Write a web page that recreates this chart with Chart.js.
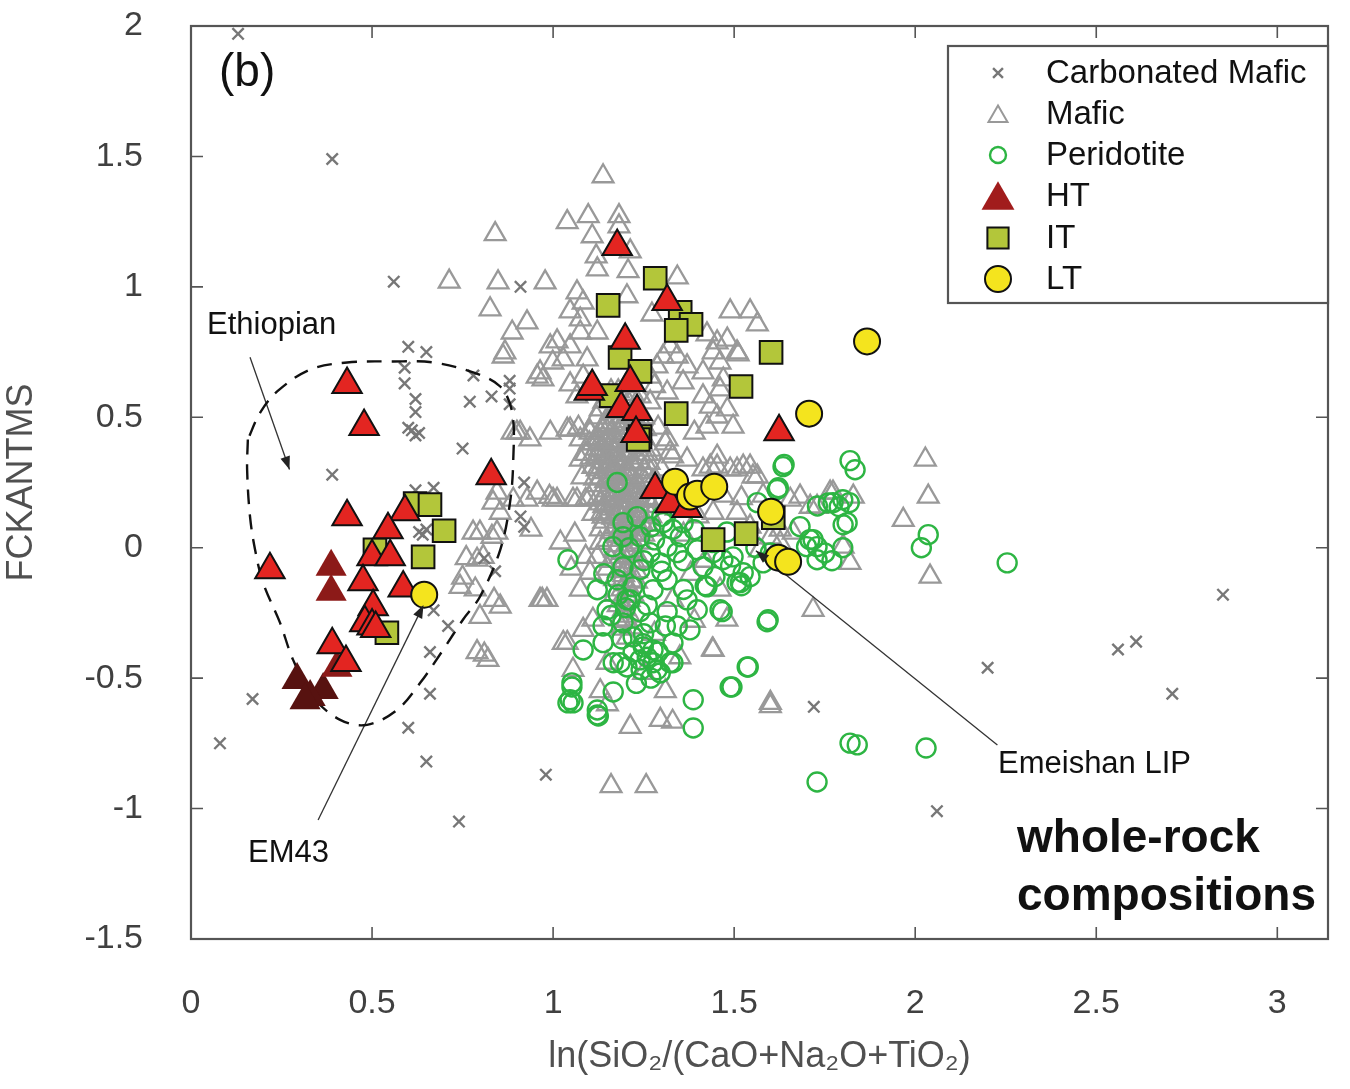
<!DOCTYPE html>
<html><head><meta charset="utf-8">
<script src="https://cdn.jsdelivr.net/npm/chart.js@4.4.1/dist/chart.umd.min.js"></script>
<style>html,body{margin:0;padding:0;background:#fff}canvas{display:block}</style>
</head><body>
<canvas id="c" width="1350" height="1089"></canvas>
<script>
// ---------- DATA ----------
const xTickValues = [0, 0.5, 1, 1.5, 2, 2.5, 3];
const yTickValues = [-1.5, -1, -0.5, 0, 0.5, 1, 1.5, 2];
const legendLabels = ['Carbonated Mafic', 'Mafic', 'Peridotite', 'HT', 'IT', 'LT'];
const xTitle = 'ln(SiO\u2082/(CaO+Na\u2082O+TiO\u2082)';
const yTitle = 'FCKANTMS';

const carbonatedMafic = [[0.13,1.97],[0.39,1.49],[0.56,1.02],[0.91,1.00],[0.60,0.77],[0.65,0.75],[0.59,0.69],[0.59,0.63],[0.62,0.57],[0.62,0.52],[0.61,0.45],[0.62,0.43],[0.60,0.46],[0.63,0.44],[0.77,0.56],[0.78,0.66],[0.83,0.58],[0.88,0.61],[0.88,0.55],[0.88,0.64],[0.75,0.38],[0.39,0.28],[0.62,0.22],[0.67,0.23],[0.63,0.06],[0.64,0.05],[0.65,0.07],[0.92,0.25],[0.91,0.12],[0.92,0.08],[0.67,-0.24],[0.71,-0.30],[0.66,-0.40],[0.66,-0.56],[0.17,-0.58],[0.60,-0.69],[0.08,-0.75],[0.65,-0.82],[0.74,-1.05],[0.98,-0.87],[2.06,-1.01],[1.72,-0.61],[2.20,-0.46],[2.56,-0.39],[2.61,-0.36],[2.71,-0.56],[2.85,-0.18],[0.84,-0.09],[0.81,-0.04]];

const mafic = [[1.138,1.424],[0.840,1.202],[1.039,1.248],[1.097,1.271],[1.182,1.271],[1.182,1.232],[1.108,1.194],[1.119,1.117],[1.213,1.136],[1.122,1.067],[1.207,1.060],[1.343,1.036],[0.848,1.017],[0.978,1.017],[0.713,1.020],[0.826,0.914],[1.066,0.979],[1.083,0.940],[1.047,0.906],[1.204,0.964],[1.273,0.894],[0.928,0.864],[0.887,0.825],[1.075,0.875],[1.122,0.825],[1.075,0.825],[1.011,0.791],[0.992,0.772],[1.047,0.772],[1.028,0.722],[0.964,0.672],[0.999,0.710],[1.094,0.722],[1.489,0.906],[1.544,0.906],[1.564,0.856],[1.425,0.818],[1.453,0.787],[1.508,0.749],[1.442,0.749],[1.323,0.772],[1.304,0.733],[1.343,0.733],[1.370,0.695],[1.287,0.695],[1.414,0.672],[0.862,0.733],[1.268,0.656],[1.470,0.645],[1.083,0.656],[0.972,0.645],[0.956,0.656],[1.047,0.626],[1.066,0.580],[0.992,0.441],[0.936,0.415],[0.900,0.441],[1.102,0.441],[1.130,0.376],[1.268,0.557],[1.315,0.595],[1.359,0.634],[1.414,0.580],[1.453,0.503],[1.497,0.464],[1.390,0.441],[1.315,0.415],[1.268,0.376],[1.508,0.300],[1.544,0.311],[1.453,0.311],[1.481,0.798],
[0.909,0.441],[1.047,0.453],[1.075,0.415],[0.834,0.173],[0.854,0.134],[0.845,0.058],[0.798,0.058],[0.807,-0.035],[0.956,0.211],[1.011,0.184],[1.066,0.184],[0.928,0.184],[1.075,0.338],[1.122,0.300],[1.323,0.365],[1.370,0.338],[1.414,0.300],[1.453,0.349],[1.489,0.300],[1.525,0.311],[1.552,0.273],[1.655,0.184],[1.138,0.119],[1.130,0.019],[1.122,-0.035],[1.442,0.134],[1.508,0.134],[1.544,0.081],
[1.000,0.184],[1.055,0.184],[0.983,-0.200],[1.102,-0.096],[1.075,-0.161],[1.110,-0.276],[1.039,-0.365],[1.083,-0.315],[1.055,-0.468],[1.149,-0.441],[1.442,-0.392],[1.461,-0.161],[1.480,-0.276],[1.718,-0.238],[1.682,0.196],[1.729,0.157],[1.765,0.211],[1.627,0.069],[1.600,-0.595],
[1.511,0.741],[1.461,0.710],[1.461,0.607],[1.434,0.541],[1.481,0.530],[1.425,0.464],[1.434,0.311],[1.564,0.273],[1.710,0.157],[1.773,0.211],[1.829,0.196],[1.967,0.107],[2.028,0.338],[2.036,0.196],[2.041,-0.111],[1.801,0.004],[1.820,-0.058],[1.663,0.058],[1.627,0.019],
[0.970,-0.200],[1.213,-0.687],[1.296,-0.660],[1.330,-0.667],[1.160,-0.914],[1.257,-0.914],[1.600,-0.607],[1.440,-0.390],[0.810,-0.410],[0.820,-0.430],[0.790,-0.400],[0.785,-0.160],[0.760,-0.040],[0.790,-0.046],[0.837,-0.200],[0.750,-0.115],[0.743,-0.150],[0.854,-0.226],[0.798,-0.265],[0.964,-0.200],[1.028,-0.365],[0.779,0.058],[0.831,0.042],[0.990,0.195],[1.090,0.184],[0.939,0.069],[1.090,-0.035],[0.887,0.441],[1.039,0.453],[0.845,0.211],[0.890,0.184],[0.867,0.749],
[1.130,-0.550],[1.250,-0.480],[1.310,-0.550],[1.350,-0.420],[1.390,-0.280],[1.330,-0.200],[1.280,-0.330],[1.150,-0.600],[1.380,-0.100],[1.420,-0.050],[1.360,0.050],[1.400,0.120],[1.340,0.150],[1.050,-0.080],[1.060,0.050],[1.020,0.020],[1.570,-0.010],[1.600,0.040],[1.520,0.190],[1.580,0.200],[1.470,0.200],
[1.10,0.45],[1.12,0.42],[1.14,0.47],[1.16,0.44],[1.18,0.40],[1.20,0.43],[1.22,0.46],[1.13,0.38],[1.15,0.35],[1.17,0.37],[1.19,0.33],[1.21,0.36],[1.23,0.39],[1.25,0.42],[1.11,0.31],[1.14,0.29],[1.16,0.32],[1.18,0.28],[1.20,0.30],[1.22,0.27],[1.24,0.33],[1.26,0.36],[1.12,0.24],[1.15,0.22],[1.17,0.25],[1.19,0.21],[1.21,0.23],[1.23,0.20],[1.25,0.26],[1.27,0.29],[1.13,0.17],[1.16,0.15],[1.18,0.18],[1.20,0.14],[1.22,0.16],[1.24,0.13],[1.26,0.19],[1.28,0.22],[1.14,0.10],[1.17,0.08],[1.19,0.11],[1.21,0.07],[1.23,0.09],[1.25,0.05],[1.27,0.12],[1.15,0.03],[1.18,0.01],[1.20,0.04],[1.22,-0.01],[1.24,0.02],[1.16,-0.05],[1.19,-0.07],[1.21,-0.03],[1.23,-0.09],[1.17,-0.12],[1.20,-0.14],[1.22,-0.18],[1.18,-0.22],[1.21,-0.26],[1.19,-0.31],[1.12,0.50],[1.17,0.52],[1.21,0.55],[1.25,0.50],[1.29,0.46],[1.31,0.40],[1.09,0.36],[1.08,0.27],[1.10,0.19],[1.30,0.30],[1.32,0.25],[1.14,0.56],[1.18,0.60],[1.24,0.58],[1.28,0.62],[1.07,0.46],[1.33,0.35],[1.30,0.18],[1.11,0.13],[1.28,0.07],
[1.11,0.40],[1.13,0.44],[1.15,0.41],[1.17,0.43],[1.19,0.46],[1.21,0.41],[1.23,0.44],[1.12,0.35],[1.14,0.33],[1.16,0.36],[1.18,0.34],[1.20,0.37],[1.22,0.32],[1.24,0.36],[1.13,0.27],[1.15,0.26],[1.17,0.29],[1.19,0.27],[1.21,0.29],[1.23,0.25],[1.14,0.20],[1.16,0.19],[1.18,0.22],[1.20,0.20],[1.22,0.21],[1.24,0.18],[1.15,0.13],[1.17,0.12],[1.19,0.15],[1.21,0.12],[1.23,0.14],[1.16,0.06],[1.18,0.05],[1.20,0.08],[1.22,0.05],[1.17,-0.01],[1.19,-0.02],[1.21,0.01],[1.18,-0.09],[1.20,-0.08],[1.19,-0.16],[1.21,-0.20],[1.20,-0.28],[1.12,0.38],[1.15,0.48],[1.19,0.50],[1.16,0.52],[1.13,0.53],[1.10,0.40],[1.26,0.24],[1.27,0.16],[1.26,0.09],[1.25,0.30],[1.14,0.16],[1.13,0.07],[1.15,-0.08],[1.24,-0.05],[1.23,-0.13],[1.17,-0.18],[1.16,0.60],[1.20,0.62],[1.22,0.59],
[1.125,0.415],[1.145,0.395],[1.165,0.405],[1.185,0.425],[1.205,0.395],[1.225,0.415],[1.135,0.345],[1.155,0.315],[1.175,0.335],[1.195,0.355],[1.215,0.325],[1.235,0.345],[1.145,0.255],[1.165,0.275],[1.185,0.245],[1.205,0.265],[1.225,0.235],[1.245,0.275],[1.155,0.185],[1.175,0.205],[1.195,0.175],[1.215,0.195],[1.235,0.165],[1.165,0.115],[1.185,0.135],[1.205,0.105],[1.225,0.125],[1.245,0.095],[1.175,0.045],[1.195,0.065],[1.215,0.035],[1.235,0.055],[1.185,-0.035],[1.205,-0.015],[1.225,-0.055],[1.195,-0.105],[1.215,-0.125],[1.205,-0.185],[1.195,-0.235],[1.215,-0.305],[1.205,-0.345],[1.185,-0.275],[1.135,0.455],[1.155,0.465],[1.175,0.475],[1.195,0.485],[1.215,0.505],[1.235,0.475],[1.255,0.455],[1.265,0.325],[1.275,0.255],[1.285,0.185],[1.105,0.345],[1.115,0.265],[1.125,0.195],[1.135,0.135]];

const peridotite = [[1.177,0.250],[1.041,-0.046],[1.619,0.223],[1.564,0.173],[1.682,0.081],[1.718,0.031],[1.729,-0.046],[1.700,0.004],[1.773,0.173],[1.517,-0.134],[1.525,-0.096],[1.461,-0.238],[1.591,-0.284],[1.536,-0.457],[1.489,-0.534],[1.387,-0.583],[1.166,-0.553],[1.052,-0.518],[1.047,-0.583],[1.122,-0.622],[1.083,-0.392],[1.185,-0.441],[1.240,-0.430],[1.287,-0.468],[1.323,-0.441],[1.331,-0.365],[1.268,-0.288],[1.221,-0.342],[1.249,-0.380],[1.378,-0.315],[1.398,-0.238],[1.370,-0.200],[1.425,-0.150],[1.414,-0.073],[1.469,-0.046],[1.122,-0.161],[1.149,-0.238],[1.193,-0.288],[1.138,-0.300],[1.204,-0.200],[1.177,-0.123],[1.193,-0.073],[1.240,-0.084],[1.276,-0.161],[1.315,-0.123],[1.296,-0.058],[1.343,-0.019],[1.351,0.042],[1.315,0.004],[1.268,-0.019],[1.240,0.042],[1.193,0.042],[1.193,0.096],[1.232,0.119],[1.390,0.069],[1.398,-0.008],[1.442,-0.019],[1.497,-0.035],[1.359,0.096],[1.304,0.096],[1.165,0.004],[1.213,-0.200],[1.260,-0.220],[1.240,-0.245],[1.200,-0.230],[1.138,-0.364],[1.249,-0.368],[1.276,-0.392],[1.221,-0.400],[1.276,-0.441],[1.243,-0.468],[1.343,-0.300],[1.315,-0.245],
[1.635,0.311],[1.622,0.230],[1.800,0.184],[1.790,0.157],[1.812,0.096],[1.709,0.031],[1.729,0.004],[1.580,-0.058],[1.544,-0.111],[1.508,-0.134],[1.520,-0.146],[1.447,-0.111],[1.420,-0.146],[1.467,-0.245],[1.594,-0.276],[1.539,-0.457],[1.494,-0.534],[1.387,-0.691],[1.122,-0.641],[1.125,-0.645],[1.052,-0.534],[1.055,-0.595],[1.041,-0.595],[1.296,-0.480],[1.331,-0.441],[1.729,-0.898],[1.820,-0.749],[1.840,-0.756],[2.030,-0.768],[2.254,-0.058],[2.036,0.050],[2.017,0.000],[1.820,0.334],[1.834,0.299],[1.818,0.173],[1.801,0.088],[1.638,0.319],[1.730,0.160],[1.760,0.172],[1.800,0.000],[1.770,-0.050],[1.750,-0.020],
[1.18,-0.18],[1.16,-0.26],[1.22,-0.15],[1.25,-0.05],[1.28,0.03],[1.30,-0.09],[1.33,0.07],[1.36,-0.05],[1.30,0.12],[1.27,0.08],[1.21,0.00],[1.14,-0.10],[1.26,-0.42],[1.29,-0.40],[1.25,-0.33],[1.19,-0.35],[1.31,-0.30],[1.23,-0.52],[1.27,-0.50],[1.36,-0.16],[1.44,0.02],[1.48,0.06],[1.56,0.00],[1.60,-0.02],[1.49,-0.07],[1.166,-0.441],[1.204,-0.457]];

const ht = [[0.431,0.626],[0.478,0.465],[0.829,0.276],[0.431,0.119],[0.218,-0.084],[0.591,0.138],[0.544,0.069],[0.500,-0.035],[0.550,-0.035],[0.475,-0.130],[0.586,-0.154],[0.503,-0.226],[0.480,-0.288],[0.500,-0.300],[0.510,-0.310],[0.390,-0.372],[0.428,-0.440],
[1.177,1.155],[1.315,0.944],[1.199,0.795],[1.100,0.600],[1.108,0.618],[1.213,0.633],[1.188,0.534],[1.232,0.522],[1.229,0.438],[1.624,0.445],[1.282,0.223],[1.323,0.169],[1.370,0.150]];
const htDark = [[0.387,-0.073],[0.387,-0.169],[0.403,-0.460]];
const htDarkest = [[0.293,-0.507],[0.365,-0.545],[0.329,-0.572],[0.315,-0.585]];
const it = [[1.152,0.929],[1.282,1.033],[1.351,0.902],[1.381,0.856],[1.340,0.833],[1.185,0.729],[1.240,0.676],[1.160,0.583],[1.240,0.426],[1.235,0.415],[1.340,0.514],[1.519,0.618],[1.602,0.749],[1.608,0.115],[1.533,0.054],[1.442,0.031],[0.619,0.169],[0.660,0.165],[0.699,0.065],[0.508,-0.008],[0.641,-0.035],[0.541,-0.326]];
const lt = [[1.867,0.791],[1.707,0.514],[1.337,0.253],[1.378,0.196],[1.398,0.207],[1.445,0.234],[1.602,0.138],[1.622,-0.038],[1.649,-0.054],[0.644,-0.180]];

const ethiopianField = [[0.157,0.415],[0.155,0.299],[0.163,0.119],[0.177,-0.008],[0.199,-0.134],[0.246,-0.288],[0.282,-0.430],[0.337,-0.572],[0.412,-0.660],[0.486,-0.679],[0.569,-0.622],[0.633,-0.518],[0.696,-0.392],[0.751,-0.276],[0.798,-0.188],[0.854,-0.008],[0.881,0.173],[0.890,0.338],[0.887,0.518],[0.854,0.618],[0.779,0.672],[0.669,0.710],[0.558,0.714],[0.431,0.710],[0.329,0.683],[0.238,0.599],[0.191,0.518],[0.157,0.415]];
const ethiopianArrow = [[0.163,0.730],[0.272,0.300]];
const em43Arrow = [[0.351,-1.044],[0.642,-0.220]];
const emeishanArrow = [[2.227,-0.756],[1.560,-0.012]];

// ---------- CHART ----------
const pts = a => a.map(p => ({x: p[0], y: p[1]}));
const FONT = '"Liberation Sans", Arial, Helvetica, sans-serif';

const frameAndTicks = {
  id: 'frameAndTicks',
  afterDatasetsDraw(chart) {
    const {ctx, chartArea: a, scales: {x, y}} = chart;
    ctx.save();
    ctx.strokeStyle = '#555';
    ctx.lineWidth = 1.6;
    const L = 12;
    ctx.beginPath();
    xTickValues.forEach(v => {
      const px = x.getPixelForValue(v);
      ctx.moveTo(px, a.bottom); ctx.lineTo(px, a.bottom - L);
      ctx.moveTo(px, a.top); ctx.lineTo(px, a.top + L);
    });
    yTickValues.forEach(v => {
      const py = y.getPixelForValue(v);
      ctx.moveTo(a.left, py); ctx.lineTo(a.left + L, py);
      ctx.moveTo(a.right, py); ctx.lineTo(a.right - L, py);
    });
    ctx.stroke();
    ctx.lineWidth = 2.2;
    ctx.strokeRect(a.left, a.top, a.right - a.left, a.bottom - a.top);
    ctx.restore();
  }
};

const annotations = {
  id: 'annotations',
  afterDraw(chart) {
    const {ctx} = chart;
    ctx.save();
    chart.data.datasets.forEach((ds, i) => {
      if (!ds.arrow) return;
      const d = chart.getDatasetMeta(i).data;
      const p0 = d[d.length - 2], p1 = d[d.length - 1];
      const ang = Math.atan2(p1.y - p0.y, p1.x - p0.x);
      const len = ds.arrow, w = ds.arrow * 0.38;
      ctx.fillStyle = '#222';
      ctx.beginPath();
      ctx.moveTo(p1.x, p1.y);
      ctx.lineTo(p1.x - len * Math.cos(ang) + w * Math.sin(ang), p1.y - len * Math.sin(ang) - w * Math.cos(ang));
      ctx.lineTo(p1.x - len * Math.cos(ang) - w * Math.sin(ang), p1.y - len * Math.sin(ang) + w * Math.cos(ang));
      ctx.closePath();
      ctx.fill();
    });
    ctx.fillStyle = '#111';
    ctx.textBaseline = 'middle';
    ctx.textAlign = 'left';
    ctx.font = '46px ' + FONT; ctx.fillText('(b)', 219, 73);
    ctx.font = '31px ' + FONT;
    ctx.fillText('Ethiopian', 207, 325);
    ctx.fillText('EM43', 248, 853);
    ctx.fillText('Emeishan LIP', 998, 764);
    ctx.font = 'bold 46px ' + FONT;
    ctx.fillText('whole-rock', 1017, 839);
    ctx.fillText('compositions', 1017, 897);

    const bx = 948, by = 46, bw = 380, bh = 257;
    ctx.fillStyle = '#fff';
    ctx.fillRect(bx, by, bw, bh);
    ctx.strokeStyle = '#555'; ctx.lineWidth = 2.2;
    ctx.strokeRect(bx, by, bw, bh);
    const rows = [73, 114, 155, 196, 238, 279];
    const mx = 998;
    const styles = [
      {pointStyle: 'crossRot', radius: 7, borderWidth: 2.4, stroke: '#777', fill: null},
      {pointStyle: 'triangle', radius: 11, borderWidth: 2, stroke: '#999', fill: null},
      {pointStyle: 'circle', radius: 8, borderWidth: 2.4, stroke: '#2db543', fill: null},
      {pointStyle: 'triangle', radius: 19, borderWidth: 0, stroke: '#a11c1c', fill: '#a11c1c'},
      {pointStyle: 'rect', radius: 15, borderWidth: 2, stroke: '#111', fill: '#b3c63a'},
      {pointStyle: 'circle', radius: 13, borderWidth: 2, stroke: '#111', fill: '#f4e41e'}
    ];
    styles.forEach((s, i) => {
      ctx.save();
      ctx.strokeStyle = s.stroke;
      ctx.fillStyle = s.fill || 'rgba(0,0,0,0)';
      ctx.lineWidth = s.borderWidth;
      const yy = rows[i] + (s.pointStyle === 'triangle' ? s.radius * 0.22 : 0);
      Chart.helpers.drawPoint(ctx, {pointStyle: s.pointStyle, radius: s.radius, borderWidth: s.borderWidth, rotation: 0}, mx, yy);
      ctx.restore();
    });
    ctx.fillStyle = '#111';
    ctx.font = '33px ' + FONT;
    legendLabels.forEach((t, i) => ctx.fillText(t, 1046, rows[i] + 1));
    ctx.restore();
  }
};

const datasets = [
  {label: 'LT', data: pts(lt), pointStyle: 'circle', pointRadius: 13, backgroundColor: '#f4e41e', borderColor: '#111', borderWidth: 2, order: 1},
  {label: 'IT', data: pts(it), pointStyle: 'rect', pointRadius: 16, backgroundColor: '#b3c63a', borderColor: '#111', borderWidth: 2, order: 3},
  {label: 'HT', data: pts(ht), pointStyle: 'triangle', pointRadius: 17, backgroundColor: '#e32521', borderColor: '#111', borderWidth: 2, order: 2},
  {label: 'HT dark', data: pts(htDark), pointStyle: 'triangle', pointRadius: 18, backgroundColor: '#8c1a18', borderColor: '#8c1a18', borderWidth: 0, order: 4},
  {label: 'HT darkest', data: pts(htDarkest), pointStyle: 'triangle', pointRadius: 18, backgroundColor: '#571210', borderColor: '#571210', borderWidth: 0, order: 4},
  {label: 'Ethiopian field', data: pts(ethiopianField), showLine: true, pointRadius: 0, borderColor: '#111', borderWidth: 2.4, borderDash: [15, 10], tension: 0.35, fill: false, order: 5},
  {label: 'arrow1', data: pts(ethiopianArrow), showLine: true, pointRadius: 0, borderColor: '#333', borderWidth: 1.3, arrow: 13, order: 5},
  {label: 'arrow2', data: pts(em43Arrow), showLine: true, pointRadius: 0, borderColor: '#333', borderWidth: 1.3, arrow: 13, order: 5},
  {label: 'arrow3', data: pts(emeishanArrow), showLine: true, pointRadius: 0, borderColor: '#333', borderWidth: 1.3, arrow: 13, order: 5},
  {label: 'Peridotite', data: pts(peridotite), pointStyle: 'circle', pointRadius: 9.5, backgroundColor: 'rgba(0,0,0,0)', borderColor: '#2db543', borderWidth: 2.4, order: 6},
  {label: 'Carbonated Mafic', data: pts(carbonatedMafic), pointStyle: 'crossRot', pointRadius: 8, borderColor: '#777', borderWidth: 2.4, order: 7},
  {label: 'Mafic', data: pts(mafic), pointStyle: 'triangle', pointRadius: 12, backgroundColor: 'rgba(0,0,0,0)', borderColor: '#999', borderWidth: 2.3, order: 8}
];

new Chart(document.getElementById('c'), {
  type: 'scatter',
  data: {datasets},
  options: {
    responsive: false,
    animation: false,
    events: [],
    layout: {padding: {top: 26, right: 22, left: 0, bottom: 0}},
    plugins: {legend: {display: false}, tooltip: {enabled: false}},
    scales: {
      x: {
        type: 'linear', min: 0, max: 3.14,
        grid: {display: false}, border: {display: false},
        ticks: {stepSize: 0.5, includeBounds: false, padding: 36, color: '#404040', font: {family: FONT, size: 34},
                callback: v => xTickValues.includes(v) ? String(v) : ''},
        title: {display: true, text: xTitle, color: '#505050', font: {family: FONT, size: 36}, padding: {top: 0, bottom: 10}},
        afterFit(s) { s.height = 150; s.paddingLeft = 0; s.paddingRight = 0; }
      },
      y: {
        type: 'linear', min: -1.5, max: 2,
        grid: {display: false}, border: {display: false},
        ticks: {stepSize: 0.5, includeBounds: false, padding: 40, color: '#404040', font: {family: FONT, size: 34},
                callback: v => yTickValues.includes(v) ? String(v) : ''},
        title: {display: true, text: yTitle, color: '#505050', font: {family: FONT, size: 36}, padding: {top: 0, bottom: 0}},
        afterFit(s) { s.width = 191; s.paddingTop = 0; s.paddingBottom = 0; }
      }
    }
  },
  plugins: [frameAndTicks, annotations]
});
</script>
</body></html>
